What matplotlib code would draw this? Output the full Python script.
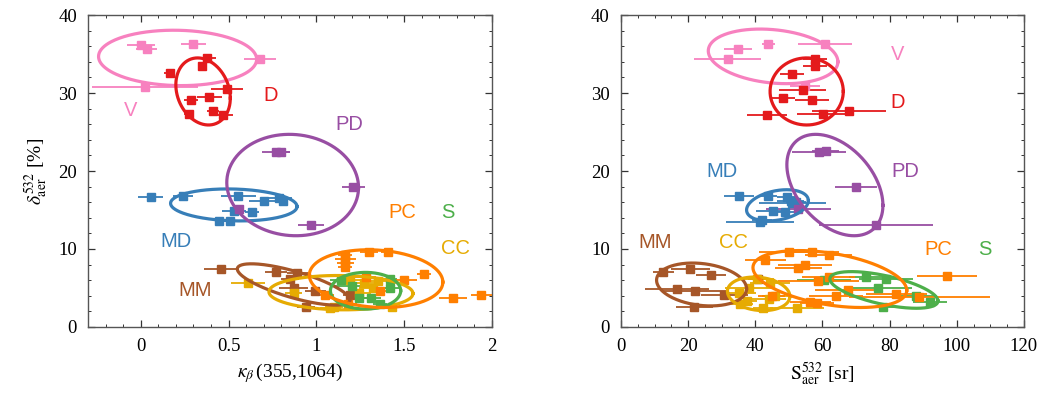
import numpy as np
import matplotlib
matplotlib.use("Agg")
import matplotlib.pyplot as plt
from matplotlib.ticker import MultipleLocator

plt.rcParams['font.family'] = ['Liberation Serif', 'DejaVu Serif']
plt.rcParams['mathtext.fontset'] = 'stix'

groups = ['V', 'D', 'PD', 'MD', 'MM', 'CC', 'S', 'PC']
colors = {'V': '#f781bf', 'D': '#e41a1c', 'PD': '#984ea3', 'MD': '#377eb8',
          'MM': '#a65628', 'CC': '#e6ab02', 'S': '#4daf4a', 'PC': '#ff7f00'}

# ---------------- left panel: kappa_beta(355,1064) vs depol ----------------
V_kappa = [0.0, 0.035, 0.30, 0.68, 0.025]
V_kappa_err = [0.08, 0.06, 0.07, 0.09, 0.3]
V_dep_l = [36.2, 35.6, 36.3, 34.3, 30.8]

D_kappa = [0.38, 0.35, 0.165, 0.49, 0.285, 0.39, 0.275, 0.41, 0.47]
D_kappa_err = [0.047, 0.02, 0.03, 0.09, 0.04, 0.07, 0.03, 0.035, 0.055]
D_dep_l = [34.5, 33.5, 32.6, 30.5, 29.1, 29.5, 27.3, 27.7, 27.2]

PD_kappa = [0.77, 0.80, 1.21, 0.97, 0.56]
PD_kappa_err = [0.08, 0.05, 0.065, 0.075, 0.03]
PD_dep_l = [22.4, 22.5, 18.0, 13.1, 15.1]

MD_kappa = [0.057, 0.24, 0.555, 0.70, 0.785, 0.81, 0.53, 0.635, 0.445, 0.51]
MD_kappa_err = [0.07, 0.057, 0.1, 0.085, 0.075, 0.02, 0.07, 0.04, 0.02, 0.02]
MD_dep_l = [16.7, 16.8, 16.8, 16.2, 16.6, 16.1, 14.9, 14.7, 13.6, 13.6]

MM_kappa = [0.455, 0.77, 0.85, 0.89, 0.87, 0.995, 0.94, 1.19]
MM_kappa_err = [0.095, 0.06, 0.05, 0.06, 0.08, 0.06, 0.05, 0.04]
MM_dep_l = [7.4, 7.1, 6.2, 6.9, 5.0, 4.6, 2.5, 4.1]

CC_kappa = [0.61, 0.87, 1.08, 1.19, 1.27, 1.32, 1.35, 1.43, 1.10, 1.24]
CC_kappa_err = [0.095, 0.05, 0.06, 0.08, 0.10, 0.08, 0.06, 0.05, 0.05, 0.07]
CC_dep_l = [5.6, 4.3, 2.4, 6.0, 5.6, 5.0, 5.9, 2.5, 2.6, 4.4]

S_kappa = [1.14, 1.24, 1.31, 1.36, 1.42, 1.42, 1.20]
S_kappa_err = [0.06, 0.05, 0.06, 0.04, 0.05, 0.04, 0.1]
S_dep_l = [6.0, 3.7, 3.7, 3.0, 5.0, 6.1, 5.2]

PC_kappa = [1.30, 1.41, 1.165, 1.165, 1.165, 1.165, 1.61, 1.50, 1.78, 1.94, 1.36, 1.05, 1.28, 1.18]
PC_kappa_err = [0.05, 0.04, 0.04, 0.06, 0.05, 0.04, 0.04, 0.07, 0.08, 0.06, 0.05, 0.05, 0.06, 0.05]
PC_dep_l = [9.6, 9.6, 9.2, 8.7, 8.2, 7.7, 6.8, 6.0, 3.7, 4.1, 4.6, 4.1, 6.4, 3.0]

# ---------------- right panel: lidar ratio vs depol ----------------
V_lr = [34.8, 43.9, 60.8, 31.8, 54.8]
V_lr_err = [4.1, 2, 8, 10, 4.5]
V_dep_r = [35.6, 36.3, 36.3, 34.3, 30.9]

D_lr = [57.8, 57.8, 50.9, 54.1, 48.3, 56.8, 43.4, 60.1, 68.0]
D_lr_err = [3.6, 3.6, 3.6, 7, 3.6, 5, 6, 7.7, 11]
D_dep_r = [34.4, 33.5, 32.5, 30.4, 29.4, 29.1, 27.2, 27.3, 27.7]

PD_lr = [59.0, 61.0, 69.9, 75.9, 52.8]
PD_lr_err = [8, 4, 6.2, 17, 9.7]
PD_dep_r = [22.5, 22.6, 18.0, 13.1, 15.1]

MD_lr = [35.2, 43.9, 49.5, 50.5, 51.0, 52.0, 45.3, 48.8, 41.4, 42.0]
MD_lr_err = [4.5, 2.5, 3, 4, 10, 3, 5, 4, 10, 3]
MD_dep_r = [16.8, 16.8, 16.7, 16.2, 15.9, 16.0, 14.9, 14.8, 13.5, 13.7]

MM_lr = [12.6, 20.7, 26.8, 16.8, 22.1, 30.7, 21.8, 40.9]
MM_lr_err = [3.2, 5.7, 4.5, 9.5, 10, 7, 5.5, 3]
MM_dep_r = [7.1, 7.4, 6.7, 4.9, 4.6, 4.1, 2.5, 6.2]

CC_lr = [35.2, 35.4, 44.4, 42.4, 52.4, 38.0, 46.0, 40.5, 44.0, 37.5]
CC_lr_err = [5, 4, 6, 3, 8, 7, 4, 5, 5, 3]
CC_dep_r = [4.3, 3.0, 5.6, 2.4, 2.4, 5.0, 4.0, 6.1, 3.6, 3.3]

S_lr = [60.5, 73.0, 78.9, 76.6, 78.0, 92.0, 88.0]
S_lr_err = [8, 5, 8, 10, 5, 5, 6]
S_dep_r = [6.0, 6.4, 6.1, 5.0, 2.6, 3.2, 4.0]

PC_lr = [50.1, 56.8, 61.8, 43.0, 54.9, 52.8, 97.1, 61.8, 58.8, 67.7, 64.1, 82.0, 88.8, 56.4, 58.3, 44.9]
PC_lr_err = [9, 8, 7, 6, 8, 7, 9, 8, 12, 10, 8, 9, 21, 6, 5, 4]
PC_dep_r = [9.6, 9.6, 9.2, 8.6, 8.0, 7.5, 6.6, 6.4, 5.9, 4.7, 4.0, 4.2, 3.8, 3.2, 3.1, 4.0]

# cluster ellipses: centre x, centre y, half-width x, half-height y, correlation
ell_left_cx = [0.21, 0.355, 0.865, 0.53, 0.87, 1.14, 1.28, 1.34]
ell_left_cy = [34.5, 30.2, 18.2, 15.65, 5.45, 4.4, 4.65, 6.2]
ell_left_rx = [0.45, 0.155, 0.375, 0.36, 0.32, 0.41, 0.2, 0.38]
ell_left_ry = [3.55, 4.3, 6.5, 2.05, 2.65, 2.2, 2.35, 3.7]
ell_left_rho = [-0.05, -0.2, -0.05, -0.1, -0.75, -0.05, 0.0, -0.12]

ell_right_cx = [45.3, 55.3, 63.7, 46.6, 24.0, 41.0, 78.3, 62.2]
ell_right_cy = [34.7, 30.2, 18.2, 15.6, 5.45, 4.25, 4.75, 6.15]
ell_right_rx = [19.3, 10.9, 14.3, 9.2, 13.4, 9.3, 16.1, 22.9]
ell_right_ry = [3.5, 4.3, 6.5, 2.0, 2.75, 2.15, 2.35, 3.65]
ell_right_rho = [-0.2, 0.0, -0.4, 0.3, -0.2, -0.15, -0.6, -0.4]

# group labels
lab_left_x = [-0.057, 0.74, 1.19, 0.2, 0.31, 1.79, 1.75, 1.49]
lab_left_y = [27.8, 29.7, 25.9, 10.9, 4.7, 10.1, 14.7, 14.7]
lab_right_x = [82.5, 82.5, 84.6, 30.1, 10.1, 33.4, 108.4, 94.4]
lab_right_y = [34.9, 28.8, 19.9, 19.9, 10.8, 10.8, 9.9, 9.9]

left_data = {'V': (V_kappa, V_kappa_err, V_dep_l), 'D': (D_kappa, D_kappa_err, D_dep_l),
             'PD': (PD_kappa, PD_kappa_err, PD_dep_l), 'MD': (MD_kappa, MD_kappa_err, MD_dep_l),
             'MM': (MM_kappa, MM_kappa_err, MM_dep_l), 'CC': (CC_kappa, CC_kappa_err, CC_dep_l),
             'S': (S_kappa, S_kappa_err, S_dep_l), 'PC': (PC_kappa, PC_kappa_err, PC_dep_l)}
right_data = {'V': (V_lr, V_lr_err, V_dep_r), 'D': (D_lr, D_lr_err, D_dep_r),
              'PD': (PD_lr, PD_lr_err, PD_dep_r), 'MD': (MD_lr, MD_lr_err, MD_dep_r),
              'MM': (MM_lr, MM_lr_err, MM_dep_r), 'CC': (CC_lr, CC_lr_err, CC_dep_r),
              'S': (S_lr, S_lr_err, S_dep_r), 'PC': (PC_lr, PC_lr_err, PC_dep_r)}

fig = plt.figure(figsize=(10.44, 4.07), dpi=100)
ax1 = fig.add_axes([0.0843, 0.1966, 0.3870, 0.7665])
ax2 = fig.add_axes([0.5948, 0.1966, 0.3860, 0.7665])

t = np.linspace(0, 2 * np.pi, 300)


def draw(ax, data, cx, cy, rx, ry, rho, lx, ly):
    order = ['MM', 'CC', 'S', 'PC', 'MD', 'PD', 'V', 'D']
    for g in order:
        i = groups.index(g)
        c = colors[g]
        x, xe, y = data[g]
        ax.errorbar(x, y, xerr=xe, fmt='s', color=c, ms=5.6, elinewidth=1.3,
                    capsize=0, mec=c, zorder=3)
        ex = cx[i] + rx[i] * np.cos(t)
        ey = cy[i] + ry[i] * (rho[i] * np.cos(t) + np.sqrt(1 - rho[i] ** 2) * np.sin(t))
        ax.plot(ex, ey, color=c, lw=2.3, zorder=4)
    for i, g in enumerate(groups):
        ax.text(lx[i], ly[i], g, color=colors[g], fontsize=14.5,
                family=['Liberation Sans', 'DejaVu Sans'], ha='center', va='center')


draw(ax1, left_data, ell_left_cx, ell_left_cy, ell_left_rx, ell_left_ry, ell_left_rho,
     lab_left_x, lab_left_y)
draw(ax2, right_data, ell_right_cx, ell_right_cy, ell_right_rx, ell_right_ry, ell_right_rho,
     lab_right_x, lab_right_y)

ax1.set_xlim(-0.3, 2)
ax1.set_ylim(0, 40)
ax1.xaxis.set_minor_locator(MultipleLocator(0.1))
ax1.set_xticks([0, 0.5, 1, 1.5, 2])
ax1.set_xticklabels(['0', '0.5', '1', '1.5', '2'])
ax2.set_xlim(0, 120)
ax2.set_ylim(0, 40)
ax2.xaxis.set_major_locator(MultipleLocator(20))
ax2.xaxis.set_minor_locator(MultipleLocator(5))

for ax in (ax1, ax2):
    ax.yaxis.set_major_locator(MultipleLocator(10))
    ax.yaxis.set_minor_locator(MultipleLocator(2))
    ax.tick_params(which='both', direction='in', top=True, right=True,
                   labelsize=13.5, colors='#333333', labelcolor='black')
    ax.tick_params(which='major', length=5, width=0.9, pad=8)
    ax.tick_params(which='minor', length=2.5, width=0.7)
    for s in ax.spines.values():
        s.set_color('#555555')
        s.set_linewidth(1.0)

ax1.set_xlabel(r'$\kappa_{\beta}\,$(355,1064)', fontsize=14, labelpad=4)
ax1.set_ylabel(r'$\delta^{532}_{\mathrm{aer}}$ [%]', fontsize=14, labelpad=6)
ax2.set_xlabel(r'$\mathrm{S}^{532}_{\mathrm{aer}}$ [sr]', fontsize=14, labelpad=4)

fig.savefig('out.png', dpi=100)
